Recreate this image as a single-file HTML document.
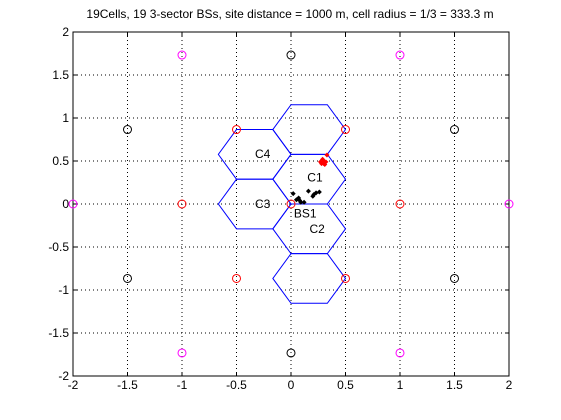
<!DOCTYPE html>
<html><head><meta charset="utf-8"><style>
html,body{margin:0;padding:0;background:#fff;}
svg{display:block;font-family:"Liberation Sans",sans-serif;}
</style></head><body>
<svg id="chart" width="561" height="420" viewBox="0 0 561 420">
<rect width="561" height="420" fill="#fff"/>
<text x="290" y="18" font-size="12" text-anchor="middle">19Cells, 19 3-sector BSs, site distance = 1000 m, cell radius = 1/3 = 333.3 m</text>
<g id="grid"></g><g id="marks"></g>
</svg>
<script>
const xTicks=[-2,-1.5,-1,-0.5,0,0.5,1,1.5,2];
const yTicks=[-2,-1.5,-1,-0.5,0,0.5,1,1.5,2];
const hexCenters=[[0.1667,0.866],[-0.3333,0.577],[0.1667,0.2887],[-0.3333,0],[0.1667,-0.2887],[0.1667,-0.866]];
const blackSites=[[0,1.732],[0,-1.732],[1.5,0.866],[-1.5,0.866],[1.5,-0.866],[-1.5,-0.866]];
const magentaSites=[[1,1.732],[-1,1.732],[1,-1.732],[-1,-1.732],[2,0],[-2,0]];
const redSites=[[0.5,0.866],[-0.5,0.866],[0.5,-0.866],[-0.5,-0.866],[1,0],[-1,0],[0,0]];
const blackUsers=[[0.02,0.12],[0.07,0.07],[0.09,0.02],[0.12,0.02],[0.05,0.05],[0.16,0.15],[0.2,0.09],[0.23,0.13],[0.26,0.14],[0.08,0.04],[0.21,0.11]];
const redUsers=[[0.28,0.47],[0.3,0.5],[0.31,0.46],[0.29,0.52],[0.32,0.49],[0.27,0.49],[0.3,0.47],[0.33,0.57]];
const cellLabels=[["C4",-0.26,0.58],["C1",0.22,0.31],["C3",-0.26,0],["BS1",0.13,-0.11],["C2",0.24,-0.29]];
const R=1/3;
const L=73,Rr=509,T=32,B=376;
const X=v=>L+(v+2)/4*(Rr-L);
const Y=v=>B-(v+2)/4*(B-T);
const NS="http://www.w3.org/2000/svg";
const svg=document.getElementById('chart');
const grid=document.getElementById('grid'),marks=document.getElementById('marks');
function mk(tag,attrs,parent){const e=document.createElementNS(NS,tag);for(const k in attrs)e.setAttribute(k,attrs[k]);parent.appendChild(e);return e;}
xTicks.forEach(t=>{
  if(t>-2&&t<2){const l=mk('line',{x1:X(t),x2:X(t),y1:T,y2:B,stroke:'#000','stroke-dasharray':'1,3','stroke-width':1},grid);
  
  }
  const tx=mk('text',{x:X(t),y:B+13,'font-size':12,'text-anchor':'middle'},grid);tx.textContent=t;
  
  
  mk('line',{x1:X(t),x2:X(t),y1:B,y2:B-4,stroke:'#000'},grid);
  mk('line',{x1:X(t),x2:X(t),y1:T,y2:T+4,stroke:'#000'},grid);
});
yTicks.forEach(t=>{
  if(t>-2&&t<2){const l=mk('line',{x1:L,x2:Rr,y1:Y(t),y2:Y(t),stroke:'#000','stroke-dasharray':'1,3','stroke-width':1},grid);
  
  }
  const tx=mk('text',{x:L-4,y:Y(t)+4,'font-size':12,'text-anchor':'end'},grid);tx.textContent=t;
  
  
  mk('line',{x1:L,x2:L+4,y1:Y(t),y2:Y(t),stroke:'#000'},grid);
  mk('line',{x1:Rr,x2:Rr-4,y1:Y(t),y2:Y(t),stroke:'#000'},grid);
});
const box=mk('rect',{x:L,y:T,width:Rr-L,height:B-T,fill:'none',stroke:'#000'},grid);


hexCenters.forEach(c=>{
  const pts=[];for(let i=0;i<6;i++){const a=i*Math.PI/3;pts.push(X(c[0]+R*Math.cos(a))+','+Y(c[1]+R*Math.sin(a)));}
  const p=mk('polygon',{points:pts.join(' '),fill:'none',stroke:'#0000ff','stroke-width':1},marks);
  
  
});
function circles(arr,col,name){arr.forEach(s=>{const c=mk('circle',{cx:X(s[0]),cy:Y(s[1]),r:4,fill:'none',stroke:col},marks);
  
  });}
circles(blackSites,'#000','bs-site-black');
circles(magentaSites,'#ff00ff','bs-site-magenta');
circles(redSites,'#ff0000','bs-site-red');
function dots(arr,col,name){arr.forEach(s=>{const x=X(s[0]),y=Y(s[1]);
  const d=mk('polygon',{points:`${x},${y-2.5} ${x+2.5},${y} ${x},${y+2.5} ${x-2.5},${y}`,fill:col},marks);
  
  });}
dots(blackUsers,'#000','user-point-black');
dots(redUsers,'#ff0000','user-point-red');
cellLabels.forEach(l=>{const t=mk('text',{x:X(l[1]),y:Y(l[2])+4,'font-size':12,'text-anchor':'middle'},marks);t.textContent=l[0];
  
  });
</script>
</body></html>
